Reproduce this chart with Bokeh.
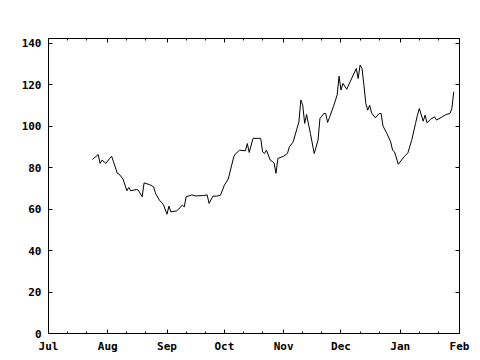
import pandas as pd
from bokeh.plotting import figure
from bokeh.models import (Range1d, FixedTicker, DatetimeTickFormatter, DatetimeAxis,
                          LinearAxis, ColumnDataSource, CustomJSTickFormatter)
from bokeh.embed import file_html
from bokeh.resources import INLINE

# ---- data ----
dates = [
    "2004-07-24", "2004-07-27", "2004-07-28", "2004-07-29", "2004-07-31",
    "2004-08-03", "2004-08-04", "2004-08-06", "2004-08-07", "2004-08-09",
    "2004-08-11", "2004-08-12", "2004-08-13", "2004-08-16", "2004-08-17",
    "2004-08-19", "2004-08-20", "2004-08-23", "2004-08-25", "2004-08-26",
    "2004-08-28", "2004-08-30", "2004-09-01", "2004-09-02", "2004-09-03",
    "2004-09-06", "2004-09-07", "2004-09-09", "2004-09-10", "2004-09-11",
    "2004-09-14", "2004-09-16", "2004-09-20", "2004-09-22", "2004-09-23",
    "2004-09-25", "2004-09-27", "2004-09-29", "2004-10-01", "2004-10-03",
    "2004-10-06", "2004-10-07", "2004-10-09", "2004-10-12", "2004-10-13",
    "2004-10-14", "2004-10-16", "2004-10-19", "2004-10-20", "2004-10-21",
    "2004-10-22", "2004-10-23", "2004-10-25", "2004-10-27", "2004-10-28",
    "2004-10-29", "2004-11-01", "2004-11-03", "2004-11-04", "2004-11-06",
    "2004-11-08", "2004-11-09", "2004-11-10", "2004-11-11", "2004-11-12",
    "2004-11-13", "2004-11-15", "2004-11-17", "2004-11-19", "2004-11-20",
    "2004-11-21", "2004-11-22", "2004-11-23", "2004-11-24", "2004-11-25",
    "2004-11-27", "2004-11-29", "2004-11-30", "2004-12-01", "2004-12-02",
    "2004-12-03", "2004-12-04", "2004-12-06", "2004-12-09", "2004-12-10",
    "2004-12-11", "2004-12-12", "2004-12-13", "2004-12-14", "2004-12-15",
    "2004-12-16", "2004-12-17", "2004-12-19", "2004-12-21", "2004-12-22",
    "2004-12-23", "2004-12-25", "2004-12-27", "2004-12-28", "2004-12-29",
    "2004-12-31", "2005-01-03", "2005-01-05", "2005-01-07", "2005-01-09",
    "2005-01-10", "2005-01-11", "2005-01-13", "2005-01-14", "2005-01-15",
    "2005-01-17", "2005-01-19", "2005-01-20", "2005-01-23", "2005-01-25",
    "2005-01-27", "2005-01-28", "2005-01-29",
]
values = [
    84.0, 86.4, 82.1, 83.7, 82.1,
    85.6, 82.9, 77.3, 76.9, 74.5,
    68.9, 70.5, 68.9, 69.5, 69.2,
    66.0, 72.7, 71.8, 70.8, 67.6,
    64.4, 62.4, 57.6, 61.5, 58.7,
    59.2, 59.9, 62.0, 61.1, 66.0,
    66.9, 66.4, 66.6, 66.9, 62.8,
    66.3, 66.3, 66.8, 71.6, 74.5,
    85.6, 86.9, 88.5, 88.2, 91.7,
    87.4, 94.2, 94.2, 94.2, 87.7,
    86.9, 88.5, 83.7, 82.4, 77.3,
    84.5, 85.6, 86.9, 90.1, 92.5,
    99.0, 102.2, 112.7, 110.2, 101.4,
    105.7, 96.6, 86.9, 93.3, 103.8,
    104.9, 106.2, 106.2, 101.9, 104.3,
    109.4, 115.1, 124.2, 117.5, 120.7,
    119.4, 117.9, 121.9, 127.9, 123.1,
    129.6, 127.9, 119.9, 111.0, 107.8,
    110.2, 106.5, 104.1, 106.2, 106.2,
    100.1, 96.6, 92.5, 88.5, 87.7,
    81.7, 85.3, 87.2, 93.3, 101.4,
    105.4, 108.6, 102.5, 105.4, 101.7,
    103.5, 104.6, 103.0, 104.6, 105.7,
    106.2, 108.6, 116.7,
]
month_starts = ["2004-07-01", "2004-08-01", "2004-09-01", "2004-10-01",
                "2004-11-01", "2004-12-01", "2005-01-01", "2005-02-01"]
minor_days = [11, 21]
y_ticks = [0, 20, 40, 60, 80, 100, 120, 140]
y_max = 142.4

FONT = "DejaVu Sans Mono"

def ms(s):
    return pd.Timestamp(s).value // 10**6

major_ms = [ms(s) for s in month_starts]
minor_ms = []
for s in month_starts[:-1]:
    t = pd.Timestamp(s)
    for d in minor_days:
        minor_ms.append(ms(t.replace(day=d)))

src = ColumnDataSource(dict(x=pd.to_datetime(dates), y=values))

p = figure(width=476, height=356, output_backend="svg", toolbar_location=None,
           x_axis_type="datetime",
           x_range=Range1d(pd.Timestamp(month_starts[0]), pd.Timestamp(month_starts[-1])),
           y_range=Range1d(0, y_max),
           min_border_left=48, min_border_right=17, min_border_top=38, min_border_bottom=23)
p.background_fill_color = "white"
p.border_fill_color = "white"
p.outline_line_color = "black"
p.outline_line_width = 1
p.grid.visible = False

p.line("x", "y", source=src, line_color="black", line_width=1)

xt = FixedTicker(ticks=major_ms, minor_ticks=minor_ms)
yt = FixedTicker(ticks=y_ticks, minor_ticks=[])
fmt = DatetimeTickFormatter(days="%b", months="%b", years="%b")
blank = CustomJSTickFormatter(code="return ''")

def style(ax):
    ax.axis_line_color = "black"
    ax.major_tick_line_color = "black"
    ax.minor_tick_line_color = "black"
    ax.major_tick_in = 4
    ax.major_tick_out = 0
    ax.minor_tick_in = 2
    ax.minor_tick_out = 0
    ax.major_label_text_font = FONT
    ax.major_label_text_font_style = "bold"
    ax.major_label_text_font_size = "11px"
    ax.major_label_text_color = "black"

xa = p.xaxis[0]
xa.ticker = xt
xa.formatter = fmt
style(xa)
xa.major_label_standoff = 6

ya = p.yaxis[0]
ya.ticker = yt
style(ya)
ya.major_label_standoff = 7

top = DatetimeAxis(ticker=xt, formatter=blank)
style(top)
top.major_label_standoff = 0
p.add_layout(top, "above")

right = LinearAxis(ticker=yt, formatter=blank)
style(right)
right.major_label_standoff = 0
p.add_layout(right, "right")

open("out.html", "w").write(file_html(p, INLINE))
